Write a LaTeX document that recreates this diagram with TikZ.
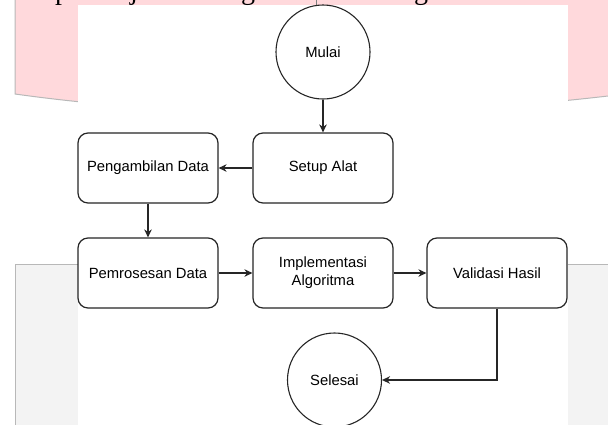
\documentclass[tikz,border=0pt]{standalone}
\usepackage{fontspec}
\setmainfont{Liberation Sans}
\newfontfamily\serifdesc{Liberation Serif}
\usetikzlibrary{arrows.meta}
\definecolor{pinkbg}{HTML}{FFD9DC}
\definecolor{greybg}{HTML}{F3F3F3}
\definecolor{greyedge}{HTML}{B8B8B8}
\definecolor{linec}{HTML}{262626}
\begin{document}
\begin{tikzpicture}[x=1pt,y=-1pt,
  procbox/.style={draw=linec, line width=1.2pt, rounded corners=10pt, fill=white,
    minimum width=140pt, minimum height=70pt, inner sep=0pt,
    font=\fontsize{14.8}{18}\selectfont, align=center},
  termcirc/.style={draw=linec, line width=1.1pt, circle, fill=white,
    minimum size=94pt, inner sep=0pt, font=\fontsize{14.8}{18}\selectfont},
  flow/.style={draw=linec, line width=1.3pt, -{Stealth[length=8pt,width=7.5pt]}},
  desc/.style={anchor=base, inner sep=0pt, font=\serifdesc\fontsize{28}{28}\selectfont}]
\useasboundingbox (0,0) rectangle (608,424);
\clip (0,0) rectangle (608,424);
% background: pink banner
\fill[pinkbg] (15,-10) -- (15,94) .. controls (200,120) and (420,118) .. (608,96) -- (620,96) -- (620,-10) -- cycle;
\draw[greyedge, line width=1pt] (15,-10) -- (15,94) .. controls (200,120) and (420,118) .. (608,96);
% background: grey panel
\fill[greybg] (15,264) rectangle (620,430);
\draw[greyedge, line width=1pt] (15,430) -- (15,264) -- (620,264);
% white diagram sheet
\fill[white] (78,5) rectangle (568,430);
\draw[gray, line width=0.8pt] (316,-2) -- (316,5);
% cut-off text fragments at the top
\node[desc] (d1) at (62,-1) {p};
\node[desc] (d2) at (134,-1) {j};
\node[desc] (d3) at (248,-1) {g};
\node[desc] (d4) at (421,-1) {g};
% diagram
\node[termcirc] (mulai) at (323,52) {Mulai};
\node[procbox] (setup) at (323,168) {Setup Alat};
\node[procbox] (ambil) at (148,168) {Pengambilan Data};
\node[procbox] (proses) at (148,273) {Pemrosesan Data};
\node[procbox] (impl) at (323,273) {Implementasi\\Algoritma};
\node[procbox] (valid) at (497,273) {Validasi Hasil};
\node[termcirc] (selesai) at (334.5,380) {Selesai};
\draw[flow] (mulai) -- (setup);
\draw[flow] (setup) -- (ambil);
\draw[flow] (ambil) -- (proses);
\draw[flow] (proses) -- (impl);
\draw[flow] (impl) -- (valid);
\draw[flow] (valid.south) |- (selesai.east);
\end{tikzpicture}
\end{document}
